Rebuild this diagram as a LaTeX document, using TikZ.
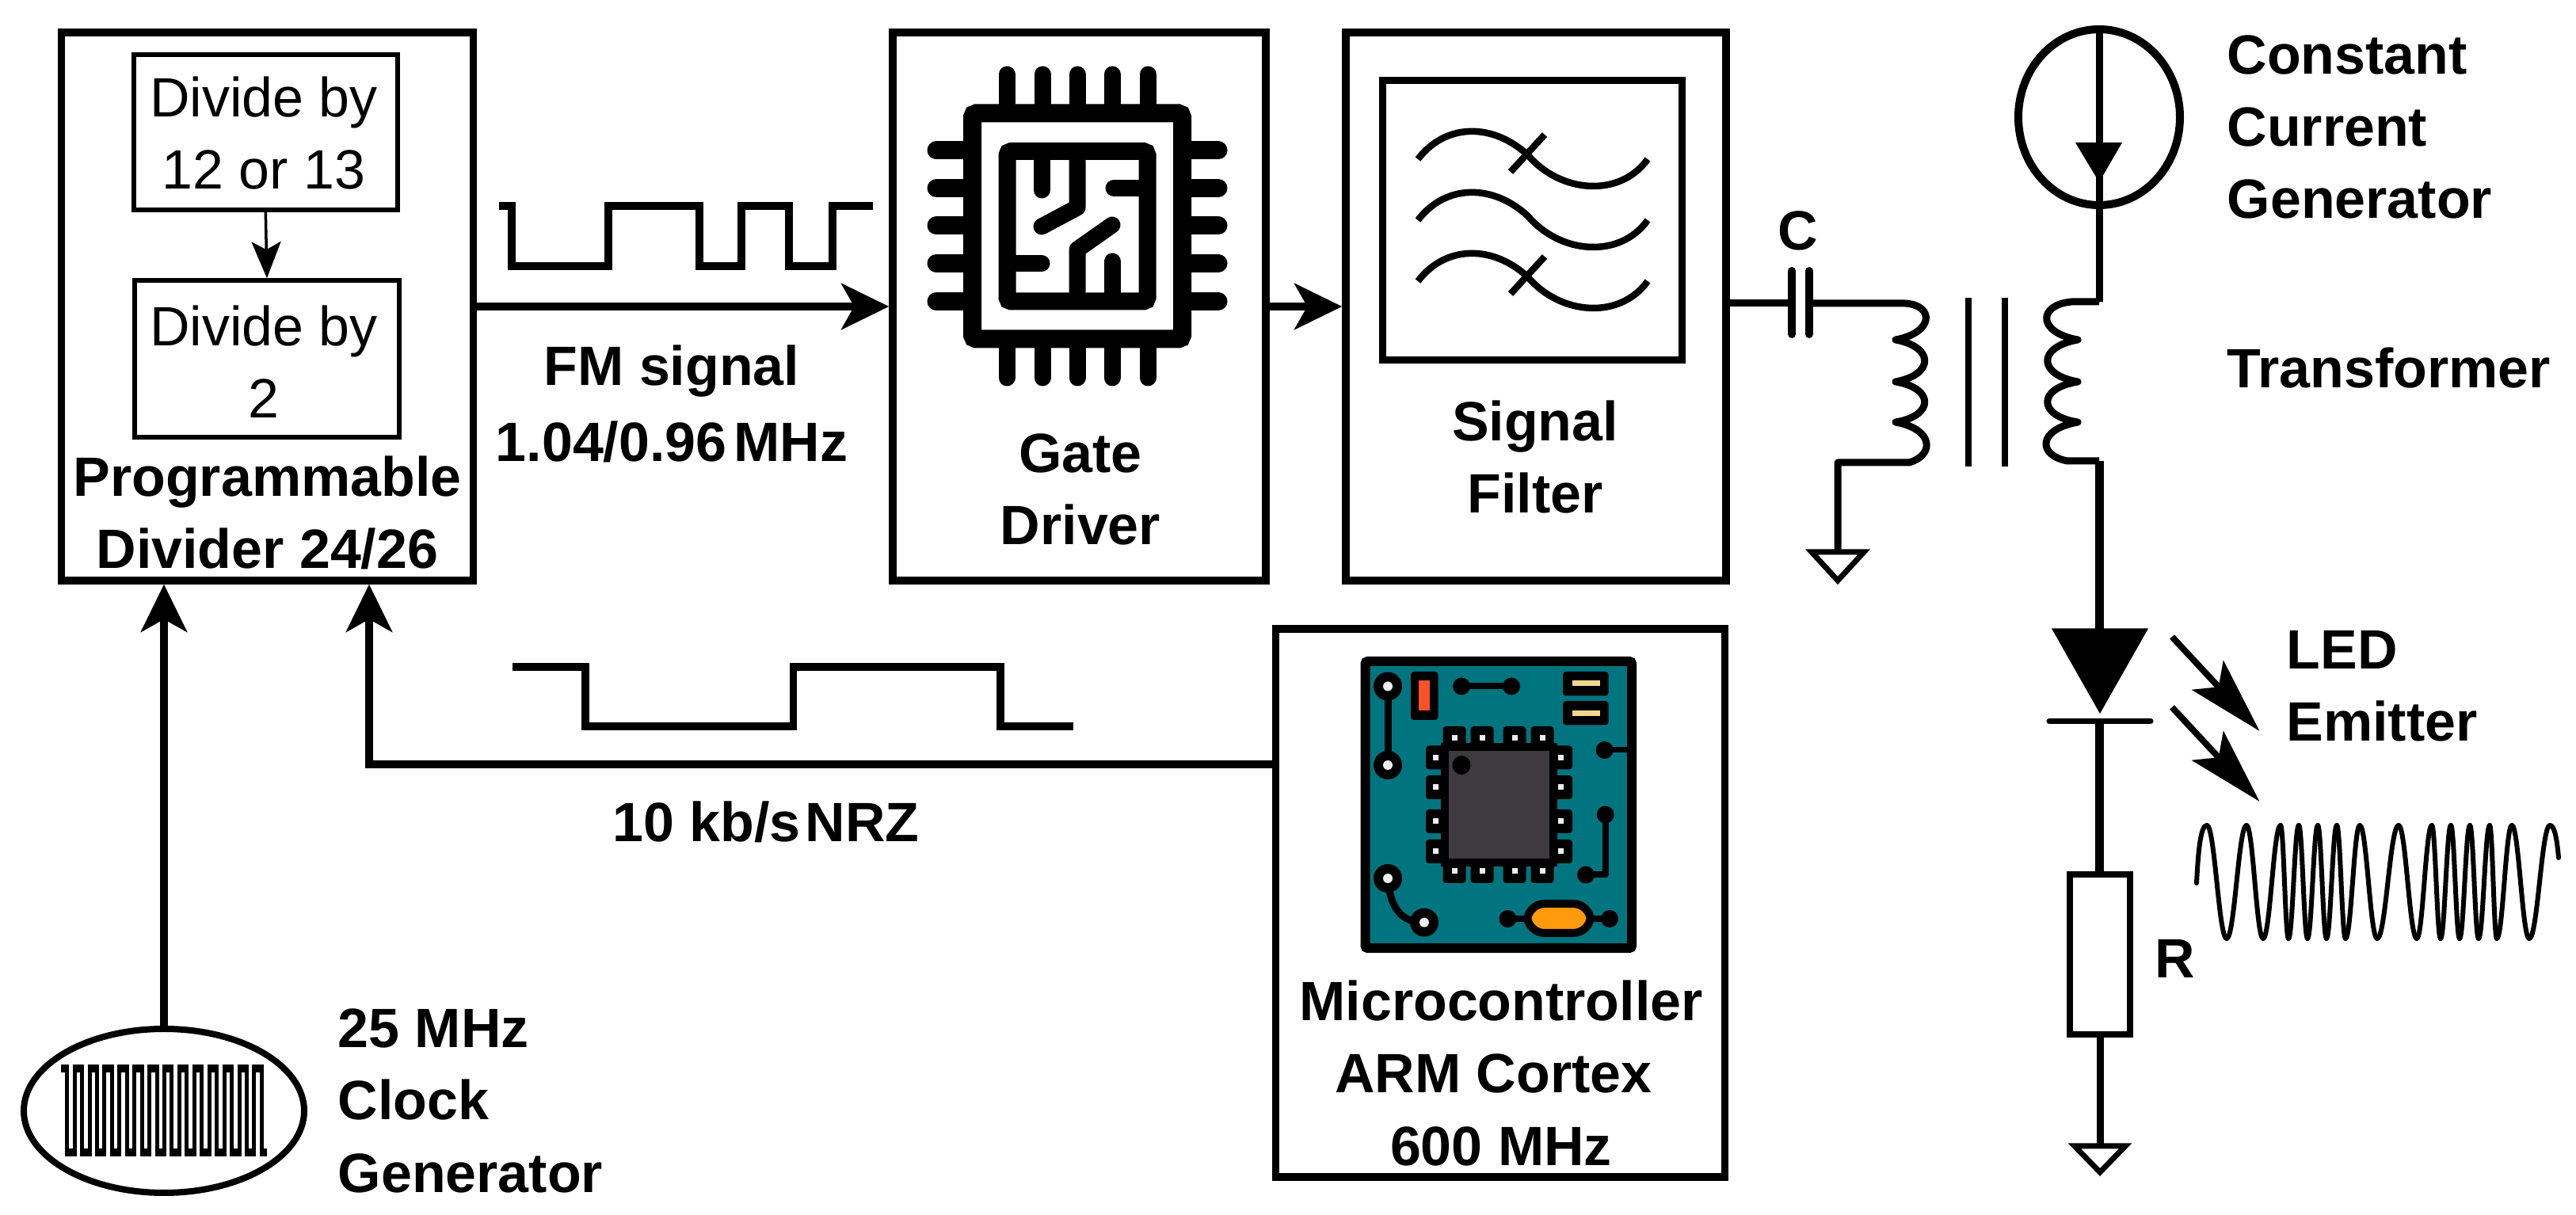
\documentclass[tikz,border=0pt]{standalone}
\usepackage{fontspec}
\setmainfont{Liberation Sans}
\usetikzlibrary{arrows.meta,shapes.geometric}

\definecolor{boardteal}{HTML}{00757F}
\definecolor{chipgrey}{HTML}{3E3A40}
\definecolor{padred}{HTML}{F9512A}
\definecolor{padyellow}{HTML}{F0D78C}
\definecolor{crystalorange}{HTML}{FF9A0C}
\definecolor{holegrey}{HTML}{EDEDED}

\tikzset{
  blockbox/.style={draw, line width=0.095cm, inner sep=0},
  dividebox/.style={draw, line width=0.055cm, inner sep=0},
  boldlabel/.style={font=\bfseries\fontsize{19.9}{25.9}\selectfont, inner sep=0},
  plainlabel/.style={font=\fontsize{19.9}{25.9}\selectfont, inner sep=0, align=center},
  bigarrow/.style={line width=0.10cm, -{Stealth[length=0.6cm, width=0.58cm, inset=0.16cm]}},
  smallarrow/.style={line width=0.035cm, -{Stealth[length=0.46cm, width=0.37cm, inset=0.1cm]}},
  rayarrow/.style={line width=0.08cm, -{Stealth[length=0.96cm, width=0.54cm, inset=0.2cm]}},
  squarewave/.style={line width=0.092cm},
  wire/.style={line width=0.09cm},
  groundsym/.style={line width=0.07cm},
  fmwave/.style={line width=0.06cm, line cap=round}
}

\begin{document}
\begin{tikzpicture}[y=-1cm]

\useasboundingbox (0,0) rectangle (32.52,15.34);

\node (divider) [blockbox, minimum width=5.20cm, minimum height=6.92cm] at (3.375,3.87) {};

\node (gate) [blockbox, minimum width=4.71cm, minimum height=6.92cm] at (13.625,3.87) {};

\node (filter) [blockbox, minimum width=4.80cm, minimum height=6.92cm] at (19.39,3.87) {};

\node (micro) [blockbox, minimum width=5.67cm, minimum height=6.92cm] at (18.94,11.40) {};

\node (divone) [dividebox, minimum width=3.33cm, minimum height=1.96cm] at (3.353,1.67) {};

\node (divtwo) [dividebox, minimum width=3.34cm, minimum height=1.98cm] at (3.37,4.53) {};

\node (source) [draw, ellipse, line width=0.10cm, inner sep=0, minimum width=2.04cm, minimum height=2.22cm] at (26.50,1.48) {};

\node (clock) [draw, ellipse, line width=0.08cm, inner sep=0, minimum width=3.54cm, minimum height=2.07cm] at (2.07,14.025) {};

\node (divonetxt) [plainlabel, anchor=base] at (3.33,2.39) {Divide by\\12 or 13};

\node (divtwotxt) [plainlabel, anchor=base] at (3.33,5.28) {Divide by\\2};

\node (dividertxt) [boldlabel, align=center, anchor=base] at (3.375,7.18) {Programmable\\Divider 24/26};

\node (fmtxt) [boldlabel, align=center, anchor=base] at (8.48,5.83) {FM signal\\[0.05cm]1.04/0.96\kern0.09cm MHz};

\node (gatetxt) [boldlabel, align=center, anchor=base] at (13.64,6.88) {Gate\\Driver};

\node (filtertxt) [boldlabel, align=center, anchor=base] at (19.38,6.48) {Signal\\Filter};

\node (captxt) [boldlabel, anchor=base] at (22.70,3.16) {C};

\node (sourcetxt) [boldlabel, align=left, anchor=base west] at (28.11,2.76) {Constant\\Current\\Generator};

\node (transtxt) [boldlabel, anchor=base west] at (28.11,4.90) {Transformer};

\node (ledtxt) [boldlabel, align=left, anchor=base west] at (28.86,9.36) {LED\\Emitter};

\node (restxt) [boldlabel, anchor=base west] at (27.20,12.35) {R};

\node (nrztxt) [boldlabel, anchor=base] at (9.67,10.63) {10 kb/s\kern0.06cm NRZ};

\node (microtxt) [boldlabel, align=center, anchor=base] at (18.95,14.71) {Microcontroller\\ARM Cortex\hphantom{i}\\600 MHz};

\node (clocktxt) [boldlabel, align=left, anchor=base west] at (4.26,15.05) {25 MHz\\Clock\\Generator};


\draw[smallarrow] (divone.south) -- (divtwo.north);

\draw[bigarrow] (divider.east) -- (gate.west);

\draw[bigarrow] (gate.east) -- (filter.west);

\draw[bigarrow] (clock.north) -- (clock.north |- divider.south);

\coordinate (nrzcorner) at (4.66,9.65);

\draw[bigarrow] (micro.west |- nrzcorner) -- (nrzcorner) -- (nrzcorner |- divider.south);


\draw[squarewave] (6.30,2.60) -- (6.46,2.60) -- (6.46,3.36) -- (7.68,3.36) -- (7.68,2.60) -- (8.83,2.60) -- (8.83,3.36) -- (9.36,3.36) -- (9.36,2.60) -- (9.96,2.60) -- (9.96,3.36) -- (10.51,3.36) -- (10.51,2.60) -- (11.02,2.60);

\draw[squarewave] (6.47,8.42) -- (7.39,8.42) -- (7.39,9.17) -- (10.015,9.17) -- (10.015,8.42) -- (12.63,8.42) -- (12.63,9.17) -- (13.55,9.17);


% chip
\foreach \x in {12.71,13.16,13.60,14.04,14.49} {
  \draw[line width=0.21cm, line cap=round] (\x,0.94) -- (\x,1.31);
  \draw[line width=0.21cm, line cap=round] (\x,4.40) -- (\x,4.77);
}

\foreach \y in {1.90,2.375,2.85,3.325,3.805} {
  \draw[line width=0.23cm, line cap=round] (11.82,\y) -- (12.17,\y);
  \draw[line width=0.23cm, line cap=round] (15.03,\y) -- (15.38,\y);
}

\draw[line width=0.23cm, rounded corners=0.05cm] (12.275,1.43) rectangle (14.925,4.28);

\draw[line width=0.22cm, rounded corners=0.05cm] (12.715,1.91) rectangle (14.485,3.805);

\begin{scope}[line width=0.21cm, line cap=round, line join=round]
\draw (13.15,2.03) -- (13.15,2.40);
\draw (13.60,2.03) -- (13.60,2.62) -- (13.15,2.86);
\draw (14.38,2.375) -- (14.06,2.375);
\draw (14.04,2.84) -- (13.60,3.15) -- (13.60,3.68);
\draw (12.82,3.325) -- (13.15,3.325);
\draw (14.04,3.68) -- (14.04,3.30);
\end{scope}


% filter
\draw[line width=0.09cm] (17.45,1.015) rectangle (21.235,4.55);

\foreach \dy in {0,0.77,1.54} {
  \draw[line width=0.085cm] (17.90,2.01+\dy) .. controls (18.25,1.55+\dy) and (18.85,1.55+\dy) .. (19.29,1.96+\dy) .. controls (19.70,2.44+\dy) and (20.45,2.50+\dy) .. (20.80,2.01+\dy);
}

\foreach \dy in {0,1.54} {
  \draw[line width=0.085cm] (19.07,2.17+\dy) -- (19.50,1.70+\dy);
}


% board
\draw[fill=boardteal, line width=0.12cm, rounded corners=0.03cm] (17.235,8.35) rectangle (20.60,11.97);

\foreach \x in {18.36,18.71,19.12,19.47} {
  \fill[rounded corners=0.04cm] ({\x-0.145},9.17) rectangle ({\x+0.145},9.60);
  \fill[rounded corners=0.04cm] ({\x-0.145},10.72) rectangle ({\x+0.145},11.15);
}

\foreach \y in {9.565,9.94,10.37,10.75} {
  \fill[rounded corners=0.04cm] (18.00,{\y-0.15}) rectangle (18.40,{\y+0.15});
  \fill[rounded corners=0.04cm] (19.45,{\y-0.15}) rectangle (19.85,{\y+0.15});
}

\draw[fill=chipgrey, line width=0.10cm] (18.235,9.43) rectangle (19.61,10.89);

\fill (18.45,9.66) ellipse (0.115 and 0.12);

\foreach \x in {18.36,18.71,19.12,19.47} {
  \fill[holegrey] ({\x-0.035},9.28) rectangle ({\x+0.035},9.35);
  \fill[holegrey] ({\x-0.035},10.965) rectangle ({\x+0.035},11.035);
}

\foreach \y in {9.565,9.94,10.37,10.75} {
  \fill[holegrey] (18.085,{\y-0.035}) rectangle (18.155,{\y+0.035});
  \fill[holegrey] (19.67,{\y-0.035}) rectangle (19.74,{\y+0.035});
}

\draw[line width=0.09cm] (17.52,8.665) -- (17.52,9.66);

\draw[line width=0.09cm] (17.52,11.09) .. controls (17.55,11.48) and (17.70,11.646) .. (17.98,11.646);

\foreach \x/\y in {17.52/8.665, 17.52/9.66, 17.52/11.09, 17.98/11.646} {
  \fill (\x,\y) circle (0.18);
  \fill[holegrey] (\x,\y) circle (0.06);
}

\fill[rounded corners=0.04cm] (17.81,8.48) rectangle (18.155,9.09);

\fill[padred] (17.91,8.59) rectangle (18.05,8.97);

\draw[line width=0.08cm] (18.45,8.665) -- (19.08,8.665);

\fill (18.45,8.665) circle (0.11);

\fill (19.08,8.665) circle (0.11);

\fill[rounded corners=0.04cm] (19.73,8.48) rectangle (20.305,8.785);

\fill[rounded corners=0.04cm] (19.73,8.85) rectangle (20.305,9.155);

\fill[padyellow] (19.85,8.59) rectangle (20.20,8.665);

\fill[padyellow] (19.85,8.97) rectangle (20.20,9.04);

\draw[line width=0.07cm] (20.256,9.47) -- (20.55,9.47);

\fill (20.256,9.47) circle (0.11);

\draw[line width=0.08cm, line join=round] (20.267,10.285) -- (20.267,11.045) -- (20.02,11.045);

\fill (20.267,10.285) circle (0.11);

\fill (20.02,11.045) circle (0.11);

\draw[line width=0.08cm] (19.035,11.60) -- (20.32,11.60);

\fill (19.035,11.60) circle (0.11);

\fill (20.32,11.60) circle (0.11);

\draw[fill=crystalorange, line width=0.10cm, rounded corners=0.22cm] (19.28,11.41) rectangle (20.08,11.78);


% clock
\draw[line width=0.10cm] (0.775,13.49) -- (0.87,13.49);

\foreach \i in {0,...,12} {
  \draw[line width=0.05cm] ({0.847+0.189*\i},13.49) -- ({0.847+0.189*\i},14.55);
  \draw[line width=0.05cm] ({0.9415+0.189*\i},13.49) -- ({0.9415+0.189*\i},14.55);
  \draw[line width=0.10cm] ({0.822+0.189*\i},14.55) -- ({0.9665+0.189*\i},14.55);
  \draw[line width=0.10cm] ({0.9165+0.189*\i},13.49) -- ({1.061+0.189*\i},13.49);
}

\draw[line width=0.05cm] (3.304,13.49) -- (3.304,14.55);

\draw[line width=0.10cm] (3.28,14.55) -- (3.37,14.55);


% circuit
\coordinate (capleft) at (22.62,3.83);

\coordinate (capright) at (22.84,3.83);

\coordinate (topcoil) at (26.50,3.81);

\coordinate (botcoil) at (26.50,5.82);

\coordinate (gndleft) at (23.20,6.95);

\coordinate (ledtop) at (26.50,7.94);

\coordinate (ledbar) at (26.50,9.105);

\draw[wire] (filter.east |- capleft) -- (capleft);

\draw[line width=0.10cm, line cap=round] (22.62,3.42) -- (22.62,4.22);

\draw[line width=0.10cm, line cap=round] (22.84,3.42) -- (22.84,4.22);

\draw[wire, line join=round] (capright) -- (24.05,3.83) .. controls (24.42,3.85) and (24.42,4.20) .. (23.93,4.29) .. controls (24.42,4.38) and (24.42,4.73) .. (23.93,4.82) .. controls (24.42,4.90) and (24.42,5.25) .. (23.93,5.33) .. controls (24.42,5.42) and (24.42,5.75) .. (24.10,5.84) -- (23.20,5.84) -- (gndleft);

\draw[line width=0.08cm] (24.85,3.76) -- (24.85,5.89);

\draw[line width=0.08cm] (25.31,3.76) -- (25.31,5.89);

\draw[wire, line join=round] (topcoil) -- (26.15,3.81) .. controls (25.72,3.85) and (25.72,4.20) .. (26.23,4.29) .. controls (25.72,4.38) and (25.72,4.73) .. (26.23,4.82) .. controls (25.72,4.90) and (25.72,5.25) .. (26.23,5.33) .. controls (25.72,5.42) and (25.72,5.75) .. (26.10,5.82) -- (botcoil);

\draw[wire] (source.north) -- (source.south);

\fill (26.20,1.80) -- (26.79,1.80) -- (26.50,2.30) -- cycle;

\draw[wire] (source.south) -- (topcoil);

\node (resistor) [draw, line width=0.08cm, inner sep=0, minimum width=0.76cm, minimum height=2.02cm] at (26.51,12.05) {};

\coordinate (gndright) at (26.51,14.47);

\draw[line width=0.11cm] (botcoil) -- (ledtop);

\fill (25.90,7.935) -- (27.12,7.935) -- (26.51,9.01) -- cycle;

\draw[line width=0.07cm, line cap=round] (25.87,9.105) -- (27.15,9.105);

\draw[line width=0.11cm] (ledbar) -- (ledbar |- resistor.north);

\draw[wire] (resistor.south) -- (gndright);

\draw[groundsym] (22.87,6.97) -- (23.53,6.97) -- (23.20,7.33) -- cycle;

\draw[groundsym] (26.19,14.47) -- (26.83,14.47) -- (26.51,14.80) -- cycle;

\coordinate (rayonea) at (27.42,8.04);

\coordinate (rayoneb) at (28.525,9.23);

\coordinate (raytwoa) at (27.42,8.93);

\coordinate (raytwob) at (28.525,10.12);

\draw[rayarrow] (rayonea) -- (rayoneb);

\draw[rayarrow] (raytwoa) -- (raytwob);


% output wave
\draw[fmwave] (27.73,11.15) .. controls (27.75,10.75) and (27.78,10.42) .. (27.86,10.42);

\foreach \xb [remember=\xb as \xa (initially 27.86), count=\i] in {28.11,28.36,28.57,28.79,28.89,29.02,29.13,29.26,29.37,29.50,29.61,29.79,30.01,30.28,30.51,30.70,30.81,30.94,31.05,31.18,31.29,31.43,31.52,31.71,31.93,32.19} {
  \pgfmathsetmacro{\ya}{isodd(\i) ? 10.42 : 11.85}
  \pgfmathsetmacro{\yb}{isodd(\i) ? 11.85 : 10.42}
  \pgfmathsetmacro{\xc}{\xa+0.4*(\xb-\xa)}
  \pgfmathsetmacro{\xd}{\xb-0.4*(\xb-\xa)}
  \draw[fmwave] (\xa,\ya) .. controls (\xc,\ya) and (\xd,\yb) .. (\xb,\yb);
}

\draw[fmwave] (32.19,10.42) .. controls (32.25,10.42) and (32.28,10.60) .. (32.30,10.83);

\end{tikzpicture}
\end{document}
